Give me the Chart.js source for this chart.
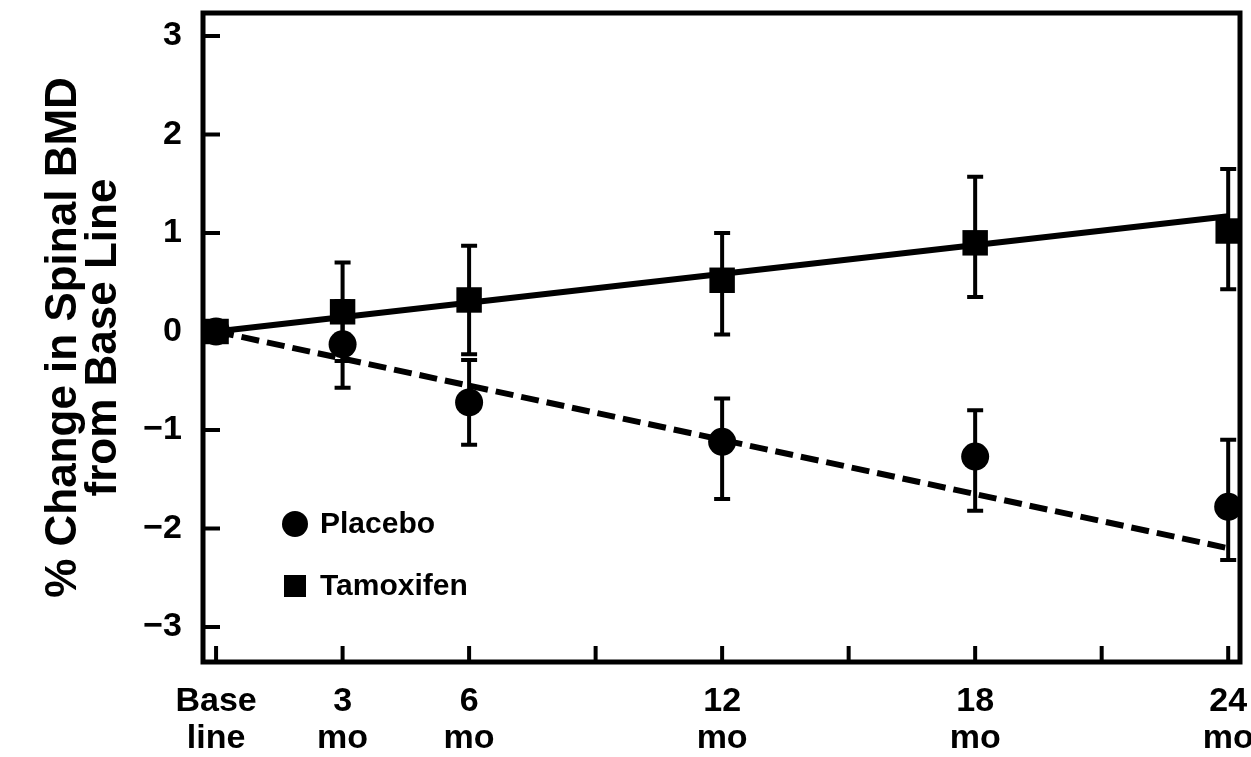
<!DOCTYPE html>
<html>
<head>
<meta charset="utf-8">
<script src="https://cdn.jsdelivr.net/npm/chart.js@4.4.1/dist/chart.umd.min.js"></script>
<style>
  html, body { margin: 0; padding: 0; background: #fff; overflow: hidden; }
  /* a little wider/taller than the window so the frame lands where the original one is */
  #wrap { width: 1258px; height: 762px; margin-top: -5px; }
</style>
</head>
<body>
<div id="wrap"><canvas id="bmd-chart"></canvas></div>
<script>
// months after start
const months = [0, 3, 6, 12, 18, 24];
const placeboMean = [0, -0.13, -0.72, -1.12, -1.27, -1.78];
const placeboLow = [null, -0.57, -1.15, -1.70, -1.82, -2.32];
const placeboHigh = [null, 0.31, -0.29, -0.68, -0.80, -1.10];
const tamoxifenMean = [0, 0.20, 0.32, 0.52, 0.90, 1.02];
const tamoxifenLow = [null, -0.30, -0.23, -0.03, 0.35, 0.43];
const tamoxifenHigh = [null, 0.70, 0.87, 1.00, 1.57, 1.65];
// fitted trend lines
const fitMonths = [0, 24];
const placeboFit = [0, -2.20];
const tamoxifenFit = [0, 1.17];
const xTicks = [0, 3, 6, 9, 12, 15, 18, 21, 24];
const xTickLabels = [["Base", "line"], ["3", "mo"], ["6", "mo"], "", ["12", "mo"], "", ["18", "mo"], "", ["24", "mo"]];
const yTicks = [-3, -2, -1, 0, 1, 2, 3];

const FONT = "'Liberation Sans', Arial, Helvetica, sans-serif";
Chart.defaults.font.family = FONT;
Chart.defaults.color = "#000";

function pts(xs, ys) {
  return xs.map((x, i) => ({ x: x, y: ys[i] }));
}

const errorBars = {
  id: "errorBars",
  afterDatasetsDraw(chart) {
    const xs = chart.scales.x, ys = chart.scales.y;
    const ctx = chart.ctx;
    ctx.save();
    ctx.strokeStyle = "#000";
    ctx.lineWidth = 4;
    [[placeboLow, placeboHigh], [tamoxifenLow, tamoxifenHigh]].forEach(([lo, hi]) => {
      months.forEach((m, i) => {
        if (lo[i] == null) return;
        const x = xs.getPixelForValue(m);
        const y1 = ys.getPixelForValue(lo[i]);
        const y2 = ys.getPixelForValue(hi[i]);
        ctx.beginPath();
        ctx.moveTo(x, y1); ctx.lineTo(x, y2);
        ctx.moveTo(x - 8, y1); ctx.lineTo(x + 8, y1);
        ctx.moveTo(x - 8, y2); ctx.lineTo(x + 8, y2);
        ctx.stroke();
      });
    });
    ctx.restore();
  }
};

const frame = {
  id: "frame",
  afterDraw(chart) {
    const { ctx, chartArea: a } = chart;
    const xs = chart.scales.x, ys = chart.scales.y;
    ctx.save();
    ctx.strokeStyle = "#000";
    ctx.lineWidth = 5;
    ctx.strokeRect(a.left, a.top, a.right - a.left, a.bottom - a.top);
    // ticks point inward
    ctx.lineWidth = 4;
    ctx.beginPath();
    yTicks.forEach(v => {
      const y = ys.getPixelForValue(v);
      ctx.moveTo(a.left, y); ctx.lineTo(a.left + 17, y);
    });
    xTicks.forEach(v => {
      const x = xs.getPixelForValue(v);
      ctx.moveTo(x, a.bottom); ctx.lineTo(x, a.bottom - 16);
    });
    ctx.stroke();

    // legend sits inside the plot
    const lx = a.left + 92;
    ctx.fillStyle = "#000";
    ctx.beginPath();
    ctx.arc(lx, a.top + 511, 13, 0, Math.PI * 2);
    ctx.fill();
    ctx.fillRect(lx - 11, a.top + 562, 22, 22);
    ctx.font = "bold 30px " + FONT;
    ctx.textBaseline = "middle";
    ctx.textAlign = "left";
    ctx.fillText("Placebo", lx + 25, a.top + 512);
    ctx.fillText("Tamoxifen", lx + 25, a.top + 574);
    ctx.restore();
  }
};

new Chart(document.getElementById("bmd-chart"), {
  type: "line",
  data: {
    datasets: [
      {
        label: "Tamoxifen",
        data: pts(months, tamoxifenMean),
        showLine: false,
        pointStyle: "rect",
        pointRadius: 18,
        backgroundColor: "#000",
        borderColor: "#000",
        borderWidth: 0
      },
      {
        label: "Placebo",
        data: pts(months, placeboMean),
        showLine: false,
        pointStyle: "circle",
        pointRadius: 14,
        backgroundColor: "#000",
        borderColor: "#000",
        borderWidth: 0
      },
      {
        label: "Tamoxifen fit",
        data: pts(fitMonths, tamoxifenFit),
        borderColor: "#000",
        borderWidth: 6,
        pointRadius: 0
      },
      {
        label: "Placebo fit",
        data: pts(fitMonths, placeboFit),
        borderColor: "#000",
        borderWidth: 6,
        borderDash: [18, 8],
        pointRadius: 0
      }
    ]
  },
  options: {
    responsive: true,
    maintainAspectRatio: false,
    animation: false,
    layout: { padding: { top: 12, right: 11, left: 0, bottom: 0 } },
    plugins: {
      legend: { display: false },
      tooltip: { enabled: false }
    },
    scales: {
      x: {
        type: "linear",
        min: -0.31,
        max: 24.28,
        grid: { display: false },
        border: { display: false },
        afterBuildTicks: s => { s.ticks = xTicks.map(v => ({ value: v })); },
        afterFit: s => { s.height = 95; s.paddingLeft = 0; s.paddingRight = 0; },
        ticks: {
          autoSkip: false,
          maxRotation: 0,
          padding: 13,
          font: { size: 34, weight: "bold", lineHeight: 1.1 },
          callback: v => xTickLabels[xTicks.indexOf(v)]
        }
      },
      y: {
        min: -3.355,
        max: 3.233,
        grid: { display: false },
        border: { display: false },
        afterBuildTicks: s => { s.ticks = yTicks.map(v => ({ value: v })); },
        afterFit: s => { s.width = 203; s.paddingTop = 0; s.paddingBottom = 0; },
        ticks: {
          padding: 13,
          font: { size: 34, weight: "bold" },
          callback: v => (v < 0 ? "\u2212" + Math.abs(v) : String(v))
        },
        title: {
          display: true,
          text: ["% Change in Spinal BMD", "from Base Line"],
          font: { size: 44, weight: "bold", lineHeight: 0.9 },
          padding: { top: 44, bottom: 0 }
        }
      }
    }
  },
  plugins: [errorBars, frame]
});
</script>
</body>
</html>
